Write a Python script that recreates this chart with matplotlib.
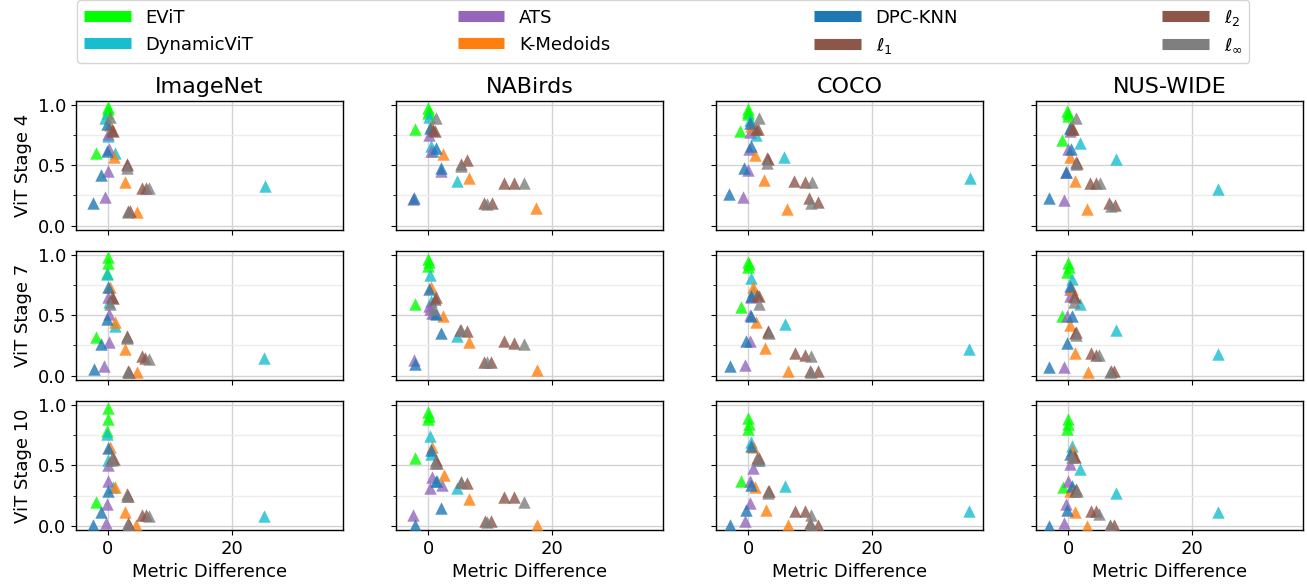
import matplotlib
matplotlib.use("Agg")
import matplotlib.pyplot as plt
import matplotlib.ticker as ticker
from matplotlib.lines import Line2D

# datasets (columns) and ViT stages (rows)
datasets = ["ImageNet", "NABirds", "COCO", "NUS-WIDE"]
stages = ["ViT Stage 4", "ViT Stage 7", "ViT Stage 10"]

methods = ["EViT", "DynamicViT", "ATS", "K-Medoids", "DPC-KNN",
           r"$\ell_1$", r"$\ell_2$", r"$\ell_\infty$"]

# each array: [stage][dataset][points]
evit_x = [
    [[0, 0, -0.1, -2.0], [0, 0.1, 0, -2.1], [-0.1, 0, -0.1, -1.3], [-0.2, 0, -0.1, -1.0]],
    [[0, 0, -0.2, -2.0], [0, 0.1, -0.1, -2.1], [0, 0.1, 0, -1.2], [0, 0.1, -0.3, -1.1]],
    [[0, 0, -0.2, -2.0], [0, 0.1, -0.1, -2.1], [0, 0.1, 0, -1.2], [0, -0.1, -0.2, -0.9]],
]
evit_y = [
    [[0.98, 0.96, 0.93, 0.60], [0.97, 0.95, 0.93, 0.80], [0.96, 0.94, 0.92, 0.78], [0.95, 0.93, 0.91, 0.71]],
    [[0.98, 0.93, 0.85, 0.32], [0.96, 0.94, 0.91, 0.59], [0.94, 0.92, 0.90, 0.57], [0.93, 0.90, 0.86, 0.49]],
    [[0.97, 0.88, 0.78, 0.20], [0.94, 0.91, 0.88, 0.56], [0.89, 0.84, 0.80, 0.37], [0.88, 0.84, 0.80, 0.32]],
]

dynvit_x = [
    [[-0.5, 0, 1.2, 25.4], [0.1, 0.4, 0.8, 4.7], [0.2, 1.3, 5.8, 35.8], [0.3, 1.8, 7.6, 24.2]],
    [[-0.2, 0.2, 1.1, 25.2], [0.25, 0.5, 0.9, 4.7], [0.4, 0.8, 5.9, 35.6], [0.5, 1.9, 7.6, 24.1]],
    [[-0.2, 0, 0.8, 25.2], [0.25, 0.4, 1.4, 4.7], [0.4, 1.7, 5.9, 35.6], [0.5, 1.9, 7.6, 24.1]],
]
dynvit_y = [
    [[0.89, 0.74, 0.60, 0.33], [0.90, 0.66, 0.62, 0.37], [0.87, 0.75, 0.57, 0.39], [0.81, 0.68, 0.55, 0.30]],
    [[0.84, 0.61, 0.41, 0.15], [0.83, 0.62, 0.52, 0.33], [0.81, 0.70, 0.43, 0.22], [0.80, 0.59, 0.38, 0.18]],
    [[0.76, 0.54, 0.32, 0.08], [0.74, 0.59, 0.37, 0.31], [0.69, 0.54, 0.33, 0.12], [0.66, 0.47, 0.27, 0.11]],
]

ats_x = [
    [[0, 0.1, 0, -0.5], [0.1, 0.5, 2.0, -2.4], [0.3, 0.1, 0, -0.8], [0.3, -0.1, -0.4, -0.8]],
    [[0, 0.1, 0.1, -0.6], [0.2, 0.6, 0.3, -2.3], [0.5, 0.3, 0.2, -0.6], [0.3, 0.2, -0.2, -0.7]],
    [[0, 0, -0.1, -0.4], [0.6, 0.3, 2.2, -2.4], [0.7, 0.2, 0.2, -0.6], [0.3, -0.1, -0.4, -0.7]],
]
ats_y = [
    [[0.76, 0.63, 0.45, 0.24], [0.75, 0.62, 0.45, 0.22], [0.77, 0.63, 0.46, 0.24], [0.78, 0.63, 0.44, 0.21]],
    [[0.65, 0.51, 0.28, 0.08], [0.58, 0.52, 0.55, 0.13], [0.65, 0.50, 0.29, 0.09], [0.72, 0.66, 0.49, 0.07]],
    [[0.50, 0.37, 0.18, 0.02], [0.40, 0.31, 0.34, 0.09], [0.48, 0.37, 0.19, 0.04], [0.51, 0.37, 0.18, 0.02]],
]

kmed_x = [
    [[0.4, 1.0, 2.7, 4.7], [0.5, 2.4, 6.6, 17.5], [0.5, 1.1, 2.6, 6.2], [0.4, 0.2, 1.1, 3.0]],
    [[0.3, 1.1, 2.7, 4.7], [0.45, 2.4, 6.6, 17.6], [0.7, 1.3, 2.7, 6.4], [0.5, 0.2, 1.1, 3.1]],
    [[0.3, 1.1, 2.7, 4.6], [0.6, 2.5, 6.6, 17.6], [0.7, 1.1, 2.8, 6.4], [0.5, 0.2, 1.1, 3.0]],
]
kmed_y = [
    [[0.83, 0.57, 0.36, 0.11], [0.82, 0.59, 0.39, 0.15], [0.82, 0.58, 0.38, 0.14], [0.82, 0.57, 0.37, 0.14]],
    [[0.73, 0.44, 0.22, 0.03], [0.73, 0.49, 0.28, 0.05], [0.73, 0.44, 0.23, 0.04], [0.72, 0.42, 0.19, 0.03]],
    [[0.65, 0.32, 0.11, 0.01], [0.65, 0.42, 0.22, 0.01], [0.65, 0.32, 0.13, 0.01], [0.63, 0.29, 0.11, 0.0]],
]

dpc_x = [
    [[-0.2, -0.1, -1.2, -2.5], [0.3, 1.3, 2.0, -2.3], [0.3, 0.5, -0.7, -3.1], [0.3, 0.4, -0.4, -3.2]],
    [[0, -0.2, -1.2, -2.3], [0.2, 1.2, 2.0, -2.1], [0.4, 0.5, -0.4, -2.9], [0.3, 0.5, -0.3, -3.2]],
    [[0, 0, -1.2, -2.4], [0.4, 1.2, 2.0, -2.1], [0.5, 0.5, -0.4, -2.9], [0.3, 0.5, -0.3, -3.2]],
]
dpc_y = [
    [[0.84, 0.62, 0.42, 0.19], [0.81, 0.64, 0.48, 0.23], [0.85, 0.66, 0.48, 0.26], [0.81, 0.63, 0.44, 0.23]],
    [[0.73, 0.47, 0.26, 0.06], [0.72, 0.51, 0.35, 0.10], [0.66, 0.49, 0.29, 0.08], [0.74, 0.49, 0.27, 0.07]],
    [[0.64, 0.29, 0.11, 0.01], [0.63, 0.37, 0.15, 0.01], [0.66, 0.34, 0.13, 0.01], [0.59, 0.33, 0.13, 0.0]],
]

l1_x = [
    [[0.6, 3.0, 5.5, 3.3], [0.8, 5.3, 12.2, 9.0], [1.2, 3.2, 7.4, 9.8], [0.5, 1.2, 3.5, 6.5]],
    [[0.6, 3.1, 5.5, 3.2], [1.2, 5.1, 12.3, 9.0], [1.4, 3.1, 7.5, 10.0], [0.9, 1.2, 3.6, 6.8]],
    [[0.7, 3.1, 5.5, 3.2], [1.2, 5.3, 12.3, 9.2], [1.4, 3.1, 7.5, 10.0], [0.9, 1.2, 3.6, 6.7]],
]
l1_y = [
    [[0.79, 0.51, 0.31, 0.12], [0.79, 0.51, 0.35, 0.19], [0.80, 0.55, 0.37, 0.23], [0.80, 0.53, 0.35, 0.19]],
    [[0.65, 0.33, 0.16, 0.04], [0.65, 0.38, 0.29, 0.11], [0.67, 0.37, 0.19, 0.04], [0.66, 0.36, 0.19, 0.04]],
    [[0.56, 0.26, 0.09, 0.02], [0.54, 0.36, 0.24, 0.04], [0.56, 0.29, 0.12, 0.02], [0.58, 0.30, 0.12, 0.01]],
]

l2_x = [
    [[0.8, 3.1, 6.2, 3.5], [1.1, 6.2, 13.9, 10.3], [1.6, 3.0, 9.1, 11.3], [0.8, 1.3, 4.5, 7.5]],
    [[0.8, 3.1, 6.0, 3.4], [1.1, 6.2, 13.9, 10.2], [1.7, 3.1, 9.2, 11.3], [1.1, 1.1, 4.5, 7.3]],
    [[0.9, 3.2, 6.2, 3.4], [1.4, 6.2, 13.9, 10.2], [1.7, 3.3, 9.2, 11.3], [1.1, 1.1, 4.5, 7.3]],
]
l2_y = [
    [[0.78, 0.50, 0.31, 0.12], [0.78, 0.54, 0.35, 0.19], [0.80, 0.56, 0.36, 0.20], [0.80, 0.52, 0.35, 0.17]],
    [[0.64, 0.32, 0.15, 0.03], [0.63, 0.37, 0.27, 0.11], [0.66, 0.36, 0.17, 0.04], [0.65, 0.35, 0.17, 0.04]],
    [[0.55, 0.25, 0.09, 0.01], [0.52, 0.35, 0.24, 0.04], [0.56, 0.29, 0.12, 0.01], [0.57, 0.29, 0.12, 0.01]],
]

linf_x = [
    [[0.4, 3.1, 6.6, 3.2], [1.3, 5.3, 15.5, 9.5], [1.8, 3.0, 10.3, 10.2], [1.2, 1.2, 5.1, 6.8]],
    [[0.4, 3.1, 6.6, 3.2], [0.9, 5.3, 15.5, 9.5], [1.7, 3.3, 10.2, 10.1], [0.9, 1.2, 5.0, 6.7]],
    [[0.6, 3.1, 6.6, 3.2], [1.1, 5.3, 15.5, 9.5], [1.6, 3.1, 10.2, 10.1], [0.6, 1.4, 5.0, 6.7]],
]
linf_y = [
    [[0.90, 0.48, 0.31, 0.11], [0.89, 0.49, 0.35, 0.18], [0.89, 0.52, 0.36, 0.19], [0.89, 0.51, 0.35, 0.16]],
    [[0.59, 0.31, 0.14, 0.03], [0.55, 0.38, 0.26, 0.11], [0.59, 0.35, 0.16, 0.03], [0.61, 0.34, 0.17, 0.03]],
    [[0.54, 0.25, 0.08, 0.01], [0.52, 0.36, 0.20, 0.03], [0.54, 0.27, 0.09, 0.01], [0.57, 0.29, 0.10, 0.0]],
]

COLORS = {
    "EViT": "#00ff00",
    "DynamicViT": "#17becf",
    "ATS": "#9467bd",
    "K-Medoids": "#ff7f0e",
    "DPC-KNN": "#1f77b4",
    r"$\ell_1$": "#8c564b",
    r"$\ell_2$": "#8c564b",
    r"$\ell_\infty$": "#7f7f7f",
}

series = [
    ("EViT", evit_x, evit_y),
    ("DynamicViT", dynvit_x, dynvit_y),
    ("ATS", ats_x, ats_y),
    ("K-Medoids", kmed_x, kmed_y),
    ("DPC-KNN", dpc_x, dpc_y),
    (r"$\ell_1$", l1_x, l1_y),
    (r"$\ell_2$", l2_x, l2_y),
    (r"$\ell_\infty$", linf_x, linf_y),
]

fig, axes = plt.subplots(3, 4, figsize=(13.07, 5.87), dpi=100, sharex=True, sharey=True)
fig.subplots_adjust(left=0.058, right=0.997, top=0.828, bottom=0.097, wspace=0.2, hspace=0.163)

for r in range(3):
    for c in range(4):
        ax = axes[r, c]
        for name, xs, ys in series:
            ax.scatter(xs[r][c], ys[r][c], marker="^", s=80, color=COLORS[name],
                       alpha=0.8, linewidths=0, zorder=3)

        ax.set_xlim(-5.2, 37.9)
        ax.set_ylim(-0.035, 1.03)
        ax.xaxis.set_major_locator(ticker.MultipleLocator(20))
        ax.yaxis.set_major_locator(ticker.MultipleLocator(0.5))
        ax.yaxis.set_minor_locator(ticker.MultipleLocator(0.25))
        ax.grid(which="major", color="#d3d3d3", linewidth=1.0)
        ax.grid(which="minor", axis="y", color="#ececec", linewidth=1.0)
        ax.set_axisbelow(True)
        ax.tick_params(labelsize=13)
        for sp in ax.spines.values():
            sp.set_linewidth(1.0)

        if r == 0:
            ax.set_title(datasets[c], fontsize=16)
        if c == 0:
            ax.set_ylabel(stages[r], fontsize=13)
        if r == 2:
            ax.set_xlabel("Metric Difference", fontsize=13)

# legend with thick line handles
handles = [Line2D([0], [0], color=COLORS[m], linewidth=8, solid_capstyle="butt") for m in methods]
fig.legend(handles, methods, loc="lower left", ncol=4, mode="expand",
           bbox_to_anchor=(0.059, 0.893, 0.897, 0.102), borderaxespad=0, fontsize=13,
           handlelength=2.6, framealpha=0.8, edgecolor="#cccccc")

plt.savefig("out.png", dpi=100)
plt.close()
